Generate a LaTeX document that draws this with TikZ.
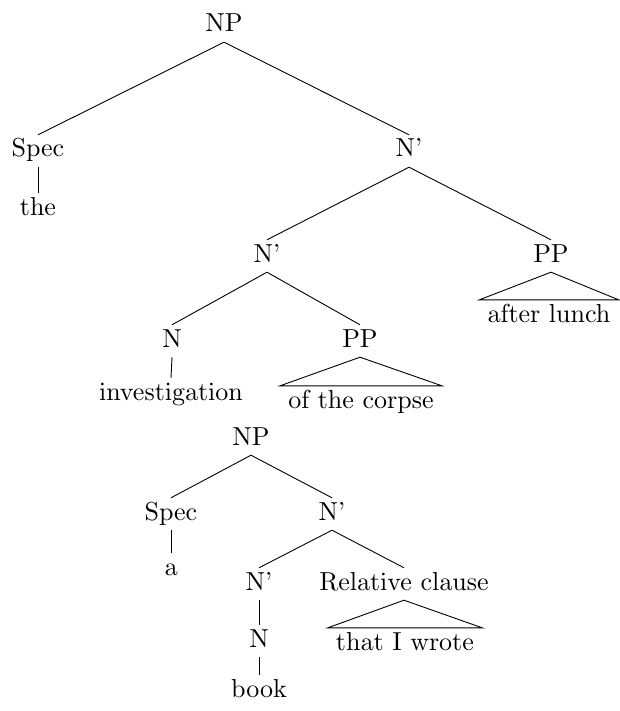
\documentclass[tikz,border=0pt]{standalone}
\font\treefont=cmr10 at 26pt
\begin{document}
\begin{tikzpicture}[x=1pt,y=-1pt,
  lbl/.style={anchor=base,inner xsep=8pt,inner ysep=4pt,text height=18pt,text depth=6pt,font=\treefont},
  edge/.style={draw=black,line width=0.9pt}]
\useasboundingbox (0,0) rectangle (619,711);
% upper tree
\node[lbl] (np1) at (224,32) {NP};
\node[lbl] (spec1) at (38,157) {Spec};
\node[lbl] (the) at (38,215) {the};
\node[lbl] (nb1) at (409,157) {N'};
\node[lbl] (nb2) at (267,262) {N'};
\node[lbl] (pp1) at (551,262) {PP};
\node[lbl] (lunch) at (549,322) {after lunch};
\node[lbl] (n1) at (172,347) {N};
\node[lbl] (pp2) at (360,347) {PP};
\node[lbl] (inv) at (171,400) {investigation};
\node[lbl] (corpse) at (361,408) {of the corpse};
\draw[edge] (np1.south) -- (spec1.north);
\draw[edge] (np1.south) -- (nb1.north);
\draw[edge] (spec1.south) -- (the.north);
\draw[edge] (nb1.south) -- (nb2.north);
\draw[edge] (nb1.south) -- (pp1.north);
\draw[edge] (pp1.south) -- (lunch.north west) -- (lunch.north east) -- cycle;
\draw[edge] (nb2.south) -- (n1.north);
\draw[edge] (nb2.south) -- (pp2.north);
\draw[edge] (n1.south) -- (inv.north);
\draw[edge] (pp2.south) -- (corpse.north west) -- (corpse.north east) -- cycle;
% lower tree
\node[lbl] (np2) at (251,445) {NP};
\node[lbl] (spec2) at (171,520) {Spec};
\node[lbl] (a) at (171,575) {a};
\node[lbl] (nb3) at (332,520) {N'};
\node[lbl] (nb4) at (259,590) {N'};
\node[lbl] (rc) at (404,590) {Relative clause};
\node[lbl] (n2) at (259,647) {N};
\node[lbl] (book) at (259,697) {book};
\node[lbl] (wrote) at (405,650) {that I wrote};
\draw[edge] (np2.south) -- (spec2.north);
\draw[edge] (np2.south) -- (nb3.north);
\draw[edge] (spec2.south) -- (a.north);
\draw[edge] (nb3.south) -- (nb4.north);
\draw[edge] (nb3.south) -- (rc.north);
\draw[edge] (nb4.south) -- (n2.north);
\draw[edge] (n2.south) -- (book.north);
\draw[edge] (rc.south) -- (wrote.north west) -- (wrote.north east) -- cycle;
\end{tikzpicture}
\end{document}
